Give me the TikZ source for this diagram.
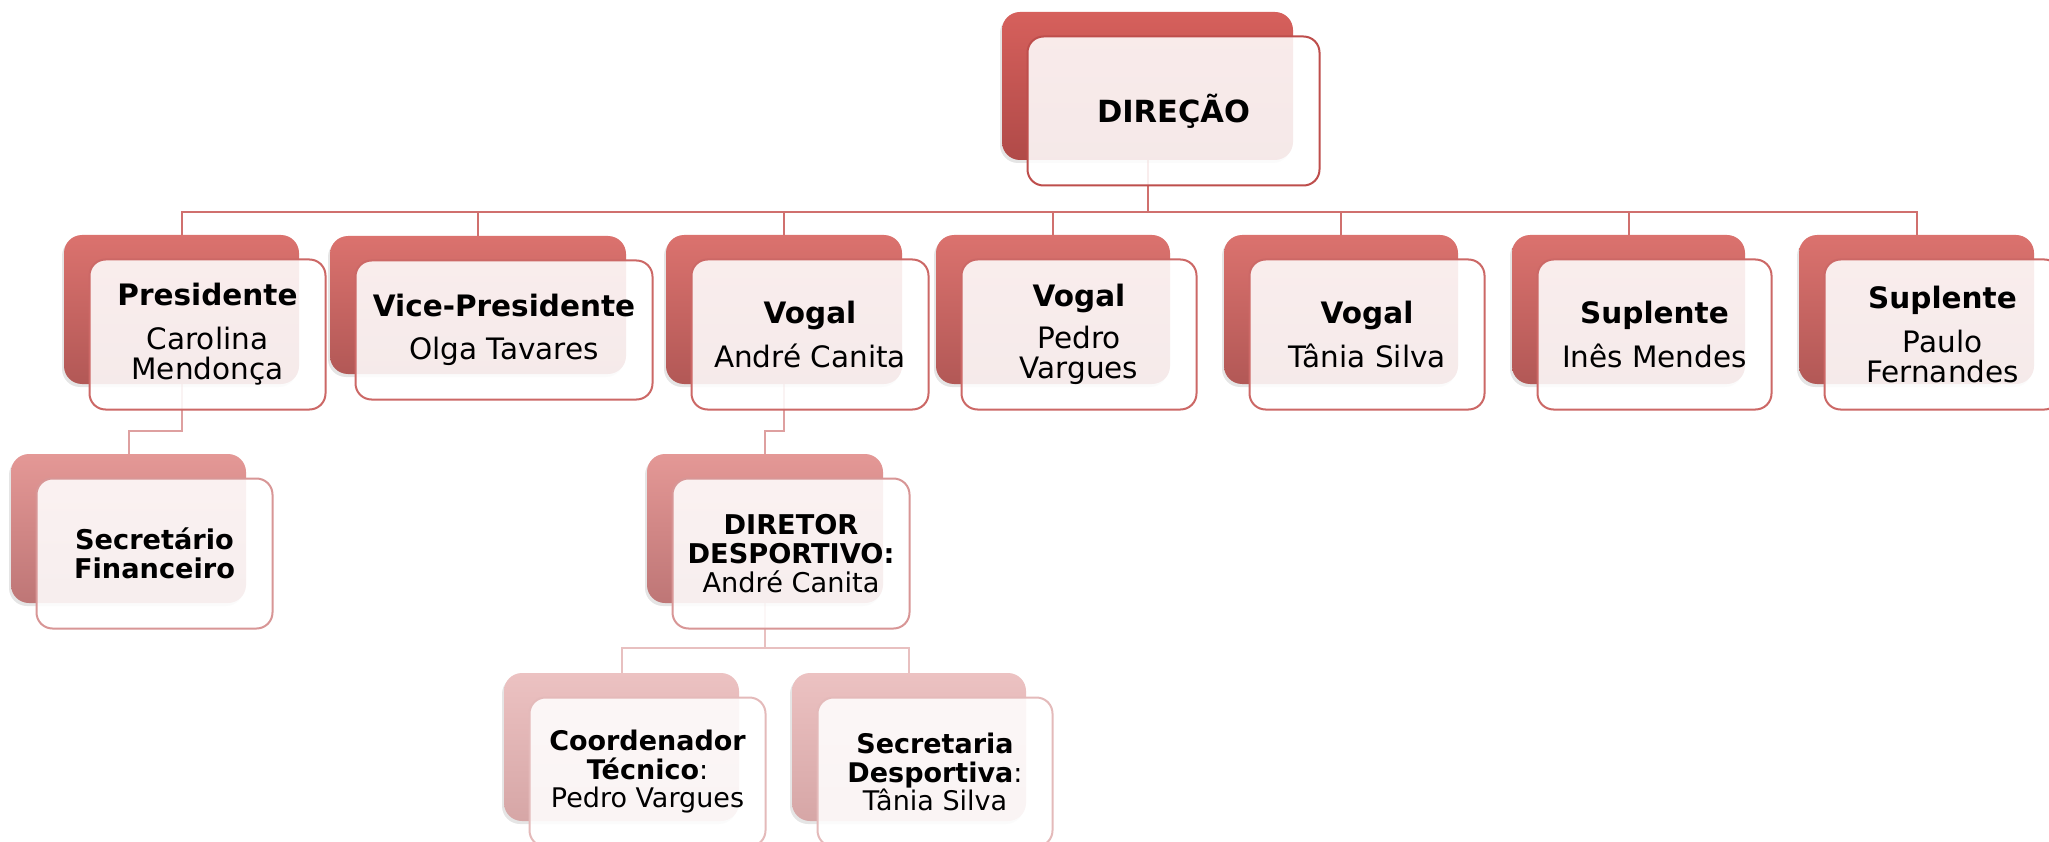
\documentclass[tikz,border=0pt]{standalone}
\usepackage{fontspec}
\setmainfont{DejaVu Sans}
\usetikzlibrary{shadows,shadings}
\pgfdeclarelayer{paper}
\pgfdeclarelayer{links}
\pgfsetlayers{paper,links,main}

\definecolor{lzT}{RGB}{214,96,92}
\definecolor{lzB}{RGB}{176,74,72}
\definecolor{loT}{RGB}{219,114,110}
\definecolor{loB}{RGB}{178,88,86}
\definecolor{ltT}{RGB}{228,152,150}
\definecolor{ltB}{RGB}{190,118,118}
\definecolor{lhT}{RGB}{236,194,194}
\definecolor{lhB}{RGB}{214,166,166}
\definecolor{edgeZ}{RGB}{190,78,76}
\definecolor{edgeO}{RGB}{204,104,102}
\definecolor{edgeT}{RGB}{216,150,150}
\definecolor{edgeH}{RGB}{228,186,186}
\definecolor{linkO}{RGB}{208,112,110}
\definecolor{linkT}{RGB}{222,160,160}
\definecolor{linkH}{RGB}{232,192,192}

\tikzset{
  backbox/.style={rectangle, rounded corners=18pt, inner sep=0pt, draw=none,
    drop shadow={shadow xshift=-2pt, shadow yshift=-3pt, opacity=0.1, fill=black}},
  back0/.style={backbox, top color=lzT, bottom color=lzB},
  back1/.style={backbox, top color=loT, bottom color=loB},
  back2/.style={backbox, top color=ltT, bottom color=ltB},
  back3/.style={backbox, top color=lhT, bottom color=lhB},
  frontbox/.style={rectangle, rounded corners=16pt, inner sep=0pt, fill=white,
    fill opacity=0.88, text opacity=1, line width=2pt, align=center, text=black},
  front0/.style={frontbox, draw=edgeZ, font=\fontsize{30.5}{32}\selectfont\bfseries},
  front1/.style={frontbox, draw=edgeO, font=\fontsize{29.5}{30}\selectfont},
  front2/.style={frontbox, draw=edgeT, font=\fontsize{27.2}{29}\selectfont},
  front3/.style={frontbox, draw=edgeH, font=\fontsize{27}{28.5}\selectfont},
  link1/.style={draw=linkO, line width=2pt},
  link2/.style={draw=linkT, line width=2pt},
  link3/.style={draw=linkH, line width=2pt}
}

% #1 name, #2 x, #3 y of back box centre, #4 width, #5 height, #6 back style, #7 front style, #8 text
\newcommand\orgbox[8]{%
  \node[#6, minimum width=#4pt, minimum height=#5pt] (B#1) at (#2,#3) {};
  \node[#7, minimum width=#4pt+1pt, minimum height=#5pt+1pt] (#1) at (#2+26,#3+25) {#8};
}

\begin{document}
\begin{tikzpicture}[x=1pt,y=-1pt]
\useasboundingbox (0,0) rectangle (2049,842);
\begin{pgfonlayer}{paper}
  \fill[white] (0,0) rectangle (2049,842);
\end{pgfonlayer}

\orgbox{dir}{1147.5}{86}{291}{148}{back0}{front0}{DIREÇÃO}
\orgbox{pres}{181.5}{309.5}{235}{149}{back1}{front1}{\textbf{Presidente}\\[14pt]Carolina\\Mendonça}
\orgbox{vice}{478}{305}{296}{138}{back1}{front1}{\textbf{Vice-Presidente}\\[13pt]Olga Tavares}
\orgbox{vand}{784}{309.5}{236}{149}{back1}{front1}{\textbf{Vogal}\\[14pt]André Canita}
\orgbox{vped}{1053}{309.5}{234}{149}{back1}{front1}{\textbf{Vogal}\\[12pt]Pedro\\Vargues}
\orgbox{vtan}{1341}{309.5}{234}{149}{back1}{front1}{\textbf{Vogal}\\[14pt]Tânia Silva}
\orgbox{sines}{1628.5}{309.5}{233}{149}{back1}{front1}{\textbf{Suplente}\\[14pt]Inês Mendes}
\orgbox{spau}{1916.5}{309.5}{235}{149}{back1}{front1}{\textbf{Suplente}\\[14pt]Paulo\\Fernandes}
\orgbox{sfin}{128.5}{528.5}{235}{149}{back2}{front2}{\textbf{Secretário}\\\textbf{Financeiro}}
\orgbox{ddes}{765}{528.5}{236}{149}{back2}{front2}{\textbf{DIRETOR}\\\textbf{DESPORTIVO:}\\André Canita}
\orgbox{coord}{621.5}{747}{235}{148}{back3}{front3}{\textbf{Coordenador}\\\textbf{Técnico}:\\Pedro Vargues}
\orgbox{sdes}{909}{747}{234}{148}{back3}{front3}{\textbf{Secretaria}\\\textbf{Desportiva}:\\Tânia Silva}

\begin{pgfonlayer}{links}
  \coordinate (busA) at (0,212);
  \draw[link1] (Bdir.south) -- (Bdir.south |- busA);
  \foreach \n in {pres,vice,vand,vped,vtan,sines,spau}
    \draw[link1] (Bdir.south |- busA) -| (B\n.north);
  \draw[link2] (Bpres.south) -- ++(0,47) -| (Bsfin.north);
  \draw[link2] (Bvand.south) -- ++(0,47) -| (Bddes.north);
  \draw[link3] (Bddes.south) -- ++(0,45) -| (Bcoord.north);
  \draw[link3] (Bddes.south) -- ++(0,45) -| (Bsdes.north);
\end{pgfonlayer}
\end{tikzpicture}
\end{document}
